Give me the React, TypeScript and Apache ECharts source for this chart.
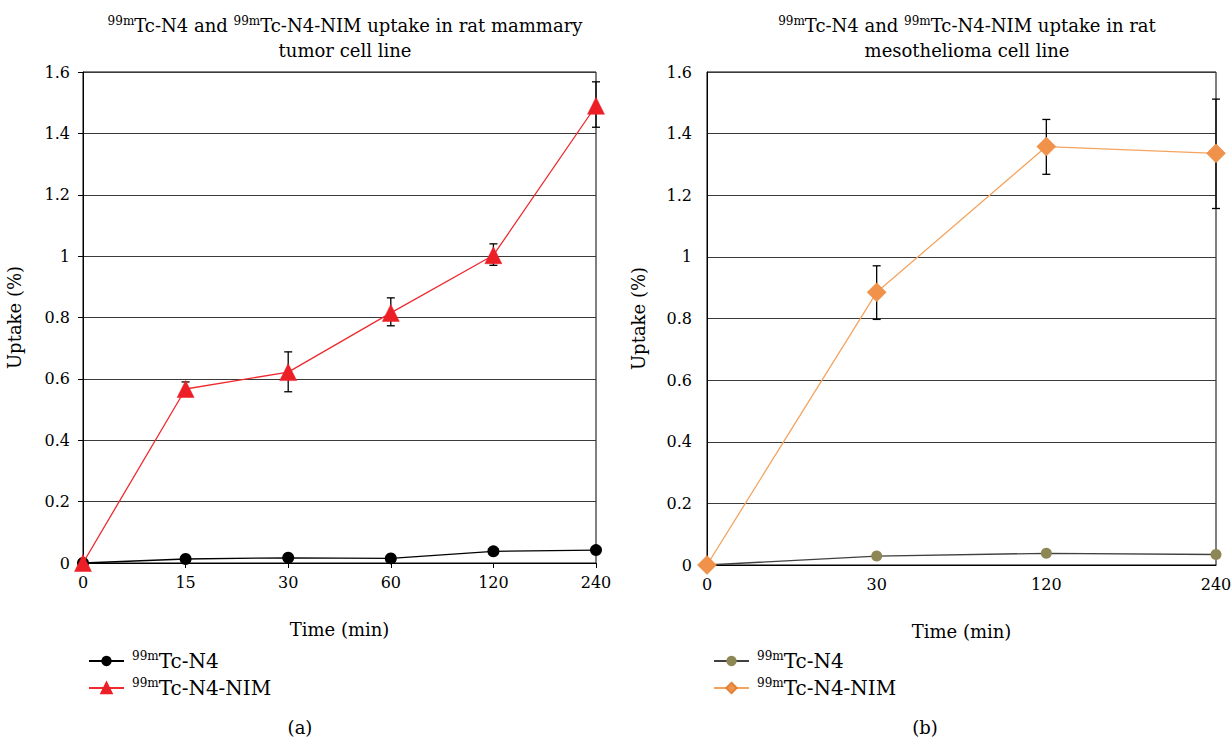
import React, { useEffect, useRef } from "react";
import * as echarts from "echarts";

const leftCats = ["0", "15", "30", "60", "120", "240"];
const leftN4 = [0, 0.013, 0.017, 0.015, 0.038, 0.042];
const leftNIM = [0, 0.567, 0.622, 0.815, 1.003, 1.49];
const leftNIMLow = [null, 0.545, 0.558, 0.773, 0.97, 1.42];
const leftNIMHigh = [null, 0.59, 0.688, 0.864, 1.04, 1.568];

const rightCats = ["0", "30", "120", "240"];
const rightN4 = [0, 0.029, 0.038, 0.034];
const rightNIM = [0, 0.885, 1.358, 1.336];
const rightNIMLow = [null, 0.797, 1.268, 1.157];
const rightNIMHigh = [null, 0.971, 1.446, 1.512];

const yTicks = { min: 0, max: 1.6, interval: 0.2 };

const FONT = "DejaVu Serif";

const supRich = {
  sup: { fontSize: 12, fontFamily: FONT, color: "#000", padding: [0, 0, 10, 3] },
  n: { fontSize: 20, fontFamily: FONT, color: "#000" },
};

function errData(low: (number | null)[], high: (number | null)[]) {
  const out: number[][] = [];
  low.forEach((l, i) => {
    const h = high[i];
    if (l !== null && h !== null) out.push([i, l, h]);
  });
  return out;
}

function buildOption(cfg: any) {
  return {
    animation: false,
    title: {
      text: cfg.title,
      left: cfg.titleX,
      top: 8,
      textAlign: "center",
      textStyle: {
        fontFamily: FONT,
        fontSize: 18,
        fontWeight: "normal",
        color: "#000",
        lineHeight: 25,
        rich: {
          sup: { fontSize: 12, fontFamily: FONT, color: "#000", padding: [0, 0, 9, 0], lineHeight: 25 },
          n: { fontSize: 18, fontFamily: FONT, color: "#000", lineHeight: 25 },
        },
      },
    },
    grid: {
      left: cfg.grid.left,
      top: cfg.grid.top,
      width: cfg.grid.width,
      height: cfg.grid.height,
      show: true,
      borderColor: "#000",
      borderWidth: 1,
      containLabel: false,
      outerBoundsMode: "none",
    },
    legend: {
      orient: "vertical",
      left: cfg.legendX,
      top: 645,
      itemWidth: 35,
      itemHeight: 13,
      itemGap: 6,
      data: cfg.legendNames,
      selectedMode: false,
      formatter: (name: string) => `{sup|99m}{n|${name.slice(3)}}`,
      textStyle: { fontFamily: FONT, fontSize: 20, color: "#000", rich: supRich },
    },
    xAxis: {
      type: "category",
      data: cfg.cats,
      boundaryGap: false,
      name: "Time (min)",
      nameLocation: "middle",
      nameGap: 57,
      nameTextStyle: { fontFamily: FONT, fontSize: 18, color: "#000" },
      axisLine: { lineStyle: { color: "#000", width: 1 } },
      axisTick: { show: cfg.xTicks, alignWithLabel: true, length: 5, lineStyle: { color: "#000" } },
      axisLabel: { fontFamily: FONT, fontSize: 16, color: "#000", margin: 11 },
      splitLine: { show: false },
    },
    yAxis: {
      type: "value",
      ...yTicks,
      name: "Uptake (%)",
      nameLocation: "middle",
      nameGap: 60,
      nameTextStyle: { fontFamily: FONT, fontSize: 18, color: "#000" },
      axisLine: { show: true, lineStyle: { color: "#000", width: 1 } },
      axisTick: { show: cfg.yTicks, length: 5, lineStyle: { color: "#000" } },
      axisLabel: { fontFamily: FONT, fontSize: 16, color: "#000", margin: cfg.yLabelMargin },
      splitLine: { show: true, lineStyle: { color: "#3a3a3a", width: 1 } },
    },
    graphic: [
      {
        type: "text",
        x: cfg.capX,
        y: 727,
        style: {
          text: cfg.cap,
          fontFamily: FONT,
          fontSize: 18,
          fill: "#000",
          align: "center",
          verticalAlign: "middle",
        },
      },
    ],
    series: [
      {
        type: "custom",
        name: "err",
        z: 1,
        clip: false,
        data: errData(cfg.low, cfg.high),
        encode: { x: 0, y: [1, 2] },
        renderItem: (params: any, api: any) => {
          const x = api.value(0);
          const lo = api.coord([x, api.value(1)]);
          const hi = api.coord([x, api.value(2)]);
          const w = 4;
          const style = { stroke: "#000", lineWidth: 1.3 };
          return {
            type: "group",
            children: [
              { type: "line", shape: { x1: lo[0], y1: lo[1], x2: hi[0], y2: hi[1] }, style },
              { type: "line", shape: { x1: lo[0] - w, y1: lo[1], x2: lo[0] + w, y2: lo[1] }, style },
              { type: "line", shape: { x1: hi[0] - w, y1: hi[1], x2: hi[0] + w, y2: hi[1] }, style },
            ],
          };
        },
      },
      {
        type: "line",
        name: "99mTc-N4",
        z: 3,
        data: cfg.n4,
        symbol: "circle",
        symbolSize: cfg.n4Size,
        showSymbol: true,
        lineStyle: { color: cfg.n4Line, width: 1.3 },
        itemStyle: { color: cfg.n4Color },
      },
      {
        type: "line",
        name: "99mTc-N4-NIM",
        z: 4,
        data: cfg.nim,
        symbol: cfg.nimSymbol,
        symbolSize: cfg.nimSize,
        showSymbol: true,
        lineStyle: { color: cfg.nimLine, width: 1.3 },
        itemStyle: { color: cfg.nimColor, borderColor: cfg.nimBorder, borderWidth: 0.5 },
      },
    ],
  };
}

const leftOption = buildOption({
  title: "{sup|99m}{n|Tc-N4 and }{sup|99m}{n|Tc-N4-NIM uptake in rat mammary}\n{n|tumor cell line}",
  titleX: 340,
  grid: { left: 83, top: 72, width: 513, height: 491 },
  legendX: 83,
  legendNames: ["99mTc-N4", "99mTc-N4-NIM"],
  cats: leftCats,
  xTicks: true,
  yTicks: true,
  yLabelMargin: 13,
  cap: "(a)",
  capX: 300,
  low: leftNIMLow,
  high: leftNIMHigh,
  n4: leftN4,
  n4Size: 12,
  n4Line: "#000",
  n4Color: "#000",
  nim: leftNIM,
  nimSymbol: "triangle",
  nimSize: 17,
  nimLine: "#ee2a2f",
  nimColor: "#ed1f26",
  nimBorder: "#ed1f26",
});

const rightOption = buildOption({
  title: "{sup|99m}{n|Tc-N4 and }{sup|99m}{n|Tc-N4-NIM uptake in rat}\n{n|mesothelioma cell line}",
  titleX: 347,
  grid: { left: 92, top: 72, width: 509, height: 493 },
  legendX: 93,
  legendNames: ["99mTc-N4", "99mTc-N4-NIM"],
  cats: rightCats,
  xTicks: false,
  yTicks: false,
  yLabelMargin: 15,
  cap: "(b)",
  capX: 310,
  low: rightNIMLow,
  high: rightNIMHigh,
  n4: rightN4,
  n4Size: 11,
  n4Line: "#404040",
  n4Color: "#8d8755",
  nim: rightNIM,
  nimSymbol: "diamond",
  nimSize: 19,
  nimLine: "#f4a460",
  nimColor: "#f0924a",
  nimBorder: "#e0823a",
});

function Chart({ option, left, width }: { option: any; left: number; width: number }) {
  const ref = useRef<HTMLDivElement>(null);
  useEffect(() => {
    if (!ref.current) return;
    const chart = echarts.init(ref.current, undefined, { renderer: "svg" });
    chart.setOption(option);
    return () => chart.dispose();
  }, [option]);
  return (
    <div
      ref={ref}
      style={{ position: "absolute", left, top: 0, width, height: 738 }}
    />
  );
}

export default function App() {
  return (
    <div style={{ position: "absolute", left: 0, top: 0, width: 1231, height: 738, background: "#fff" }}>
      <Chart option={leftOption} left={0} width={615} />
      <Chart option={rightOption} left={615} width={616} />
    </div>
  );
}
